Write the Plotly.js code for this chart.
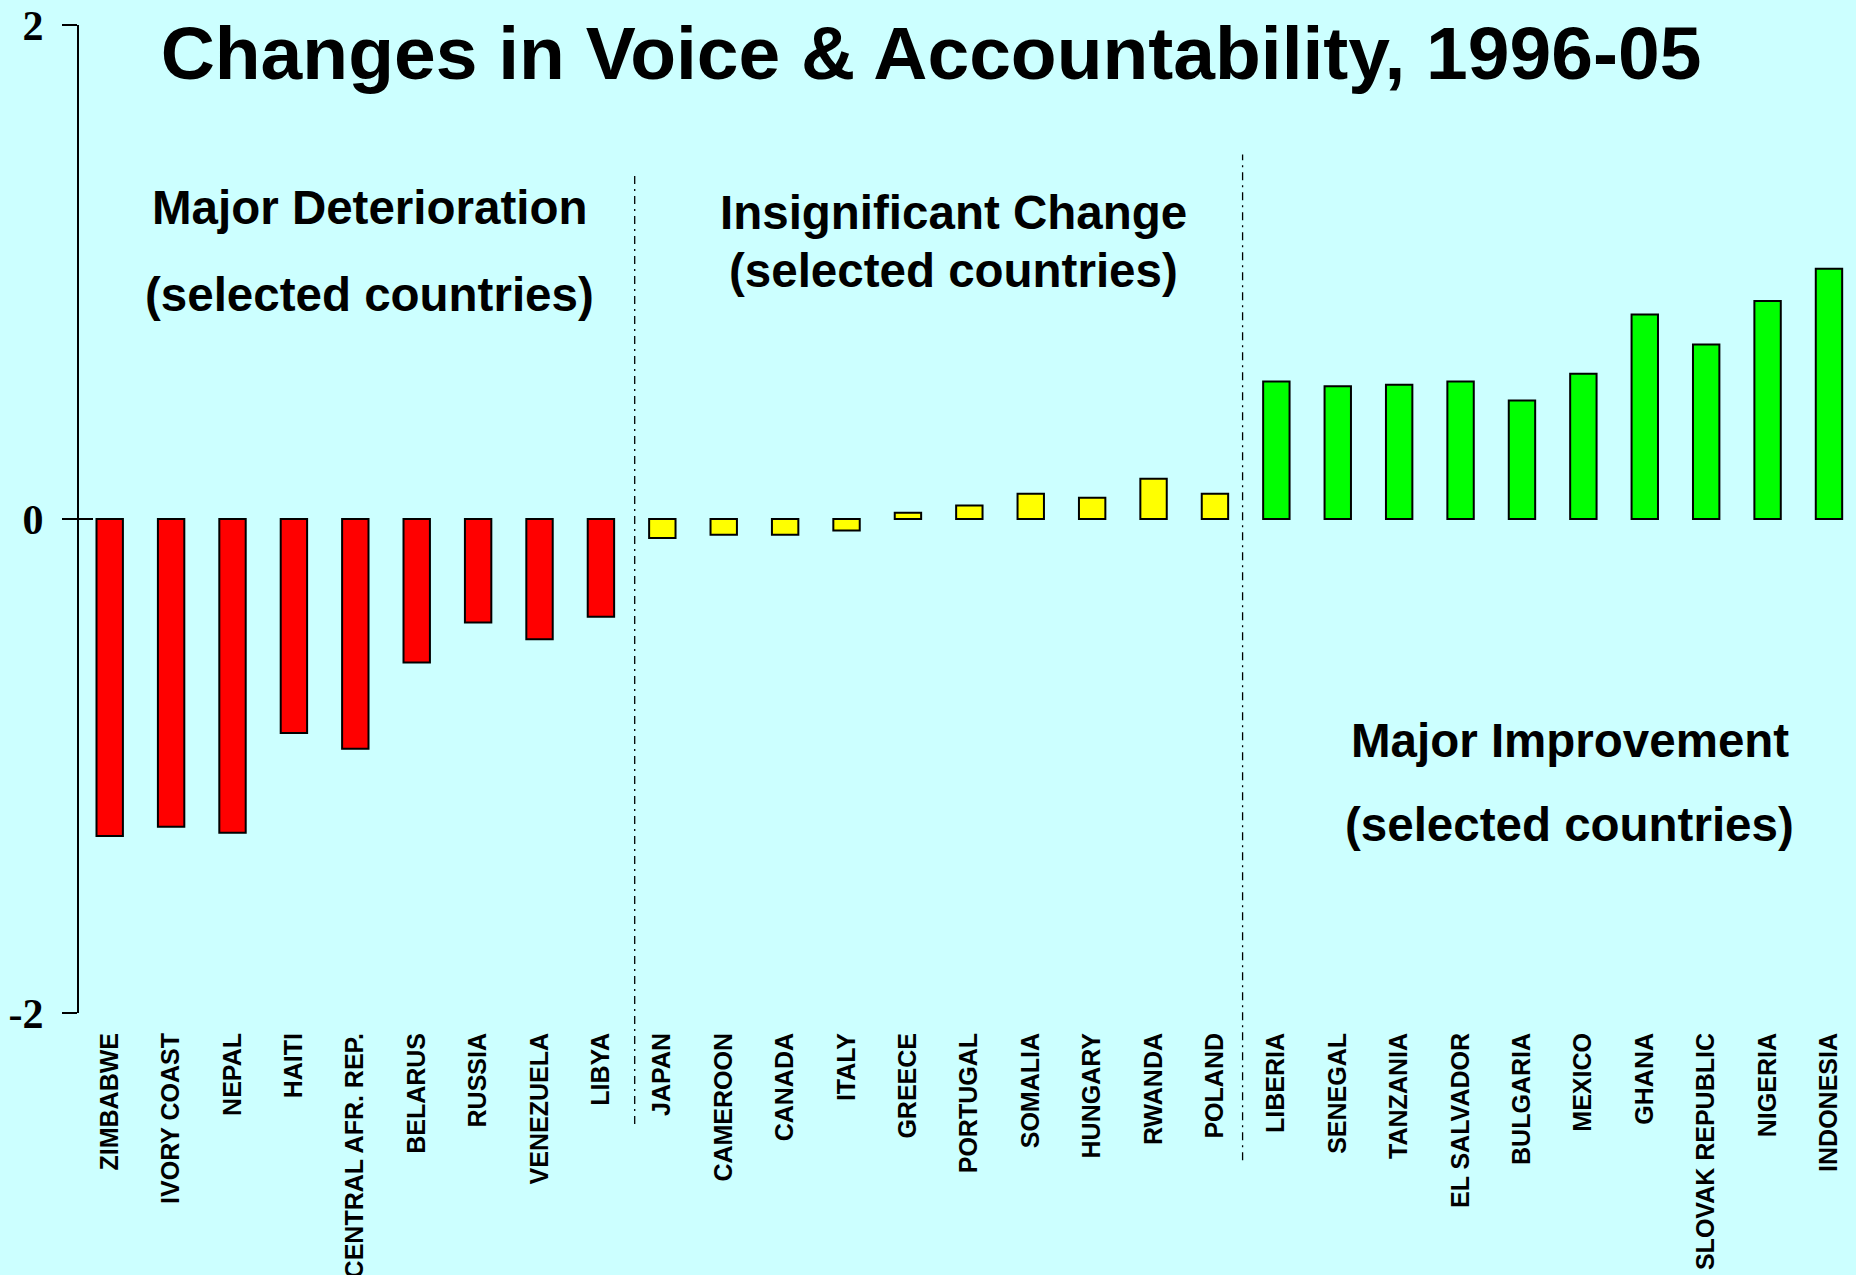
<!DOCTYPE html>
<html>
<head>
<meta charset="utf-8">
<script src="https://cdn.plot.ly/plotly-3.0.1.min.js"></script>
<style>
  html, body { margin: 0; padding: 0; background: #CCFFFF; }
  #chart { width: 1856px; height: 1275px; }
</style>
</head>
<body>
<div id="chart"></div>
<script>
// ---- Data ----
const deteriorationCountries = ["ZIMBABWE", "IVORY COAST", "NEPAL", "HAITI", "CENTRAL AFR. REP.", "BELARUS", "RUSSIA", "VENEZUELA", "LIBYA"];
const deteriorationValues = [-1.283, -1.246, -1.270, -0.866, -0.930, -0.581, -0.419, -0.487, -0.396];

const insignificantCountries = ["JAPAN", "CAMEROON", "CANADA", "ITALY", "GREECE", "PORTUGAL", "SOMALIA", "HUNGARY", "RWANDA", "POLAND"];
const insignificantValues = [-0.077, -0.064, -0.064, -0.047, 0.025, 0.055, 0.102, 0.086, 0.163, 0.102];

const improvementCountries = ["LIBERIA", "SENEGAL", "TANZANIA", "EL SALVADOR", "BULGARIA", "MEXICO", "GHANA", "SLOVAK REPUBLIC", "NIGERIA", "INDONESIA"];
const improvementValues = [0.557, 0.537, 0.544, 0.557, 0.480, 0.588, 0.828, 0.706, 0.883, 1.013];

const yTickValues = [-2, 0, 2];
const yTickLabels = ["-2", "0", "2"];

const titleText = "Changes in Voice & Accountability, 1996-05";

// ---- Build ----
const allCountries = deteriorationCountries.concat(insignificantCountries, improvementCountries);
const n = allCountries.length;
const sep1 = deteriorationCountries.length - 0.5 + 0.05;
const sep2 = deteriorationCountries.length + insignificantCountries.length - 0.5 - 0.05;

const barLine = { color: "#000000", width: 2 };
const traces = [
  { type: "bar", x: deteriorationCountries, y: deteriorationValues, marker: { color: "#FF0000", line: barLine }, hoverinfo: "x+y" },
  { type: "bar", x: insignificantCountries, y: insignificantValues, marker: { color: "#FFFF00", line: barLine }, hoverinfo: "x+y" },
  { type: "bar", x: improvementCountries, y: improvementValues, marker: { color: "#00FF00", line: barLine }, hoverinfo: "x+y" },
  // empty helper trace so the overlaid axis (inner half of the crossing ticks) is drawn
  { type: "scatter", x: [], y: [], yaxis: "y2", mode: "markers", hoverinfo: "skip", showlegend: false }
];

const sepLine = { color: "#000000", width: 1.3, dash: "8px,5px,2px,5px" };
const groupFont = { family: "Liberation Sans, Arial, sans-serif", size: 47.5, color: "#000000" };

const layout = {
  width: 1856,
  height: 1275,
  paper_bgcolor: "#CCFFFF",
  plot_bgcolor: "#CCFFFF",
  showlegend: false,
  barmode: "overlay",
  bargap: 0.57,
  margin: { l: 79, r: 0, t: 25, b: 262, pad: 0 },
  title: {
    text: "<b>" + titleText + "</b>",
    font: { family: "Liberation Sans, Arial, sans-serif", size: 75, color: "#000000" },
    x: 931 / 1856, xanchor: "center", xref: "container",
    y: 1 - 53 / 1275, yanchor: "middle", yref: "container"
  },
  xaxis: {
    type: "category",
    categoryorder: "array",
    categoryarray: allCountries,
    range: [-0.5, n - 0.56],
    showgrid: false, zeroline: false, showline: false,
    ticks: "",
    tickangle: -90,
    ticklabelstandoff: 14,
    tickfont: { family: "Liberation Sans, Arial, sans-serif", size: 25, color: "#000000", weight: "bold" }
  },
  yaxis: {
    range: [-2, 2],
    tickmode: "array",
    tickvals: yTickValues,
    ticktext: yTickLabels,
    showgrid: false, zeroline: false,
    showline: true, linecolor: "#000000", linewidth: 2,
    ticks: "outside", ticklen: 15, tickwidth: 2, tickcolor: "#000000",
    ticklabelstandoff: 10,
    tickfont: { family: "Liberation Serif, Times New Roman, serif", size: 42, color: "#000000", weight: "bold" }
  },
  yaxis2: {
    overlaying: "y",
    range: [-2, 2],
    tickmode: "array",
    tickvals: yTickValues,
    showticklabels: false,
    showgrid: false, zeroline: false, showline: false,
    ticks: "inside", ticklen: 14, tickwidth: 2, tickcolor: "#000000",
    side: "left"
  },
  shapes: [
    { type: "line", xref: "x", yref: "paper", x0: sep1, x1: sep1, y0: -0.1124, y1: 0.851, line: sepLine },
    { type: "line", xref: "x", yref: "paper", x0: sep2, x1: sep2, y0: -0.149, y1: 0.869, line: sepLine }
  ],
  annotations: [
    { text: "<b>Major Deterioration</b>", xref: "paper", yref: "paper", x: 0.1632, y: 0.8148, showarrow: false, xanchor: "center", yanchor: "middle", font: groupFont },
    { text: "<b>(selected countries)</b>", xref: "paper", yref: "paper", x: 0.1632, y: 0.7277, showarrow: false, xanchor: "center", yanchor: "middle", font: groupFont },
    { text: "<b>Insignificant Change</b>", xref: "paper", yref: "paper", x: 0.4924, y: 0.8107, showarrow: false, xanchor: "center", yanchor: "middle", font: groupFont },
    { text: "<b>(selected countries)</b>", xref: "paper", yref: "paper", x: 0.4924, y: 0.752, showarrow: false, xanchor: "center", yanchor: "middle", font: groupFont },
    { text: "<b>Major Improvement</b>", xref: "paper", yref: "paper", x: 0.839, y: 0.2763, showarrow: false, xanchor: "center", yanchor: "middle", font: groupFont },
    { text: "<b>(selected countries)</b>", xref: "paper", yref: "paper", x: 0.839, y: 0.1903, showarrow: false, xanchor: "center", yanchor: "middle", font: groupFont }
  ]
};

Plotly.newPlot("chart", traces, layout, { displayModeBar: false, staticPlot: true });
</script>
</body>
</html>
